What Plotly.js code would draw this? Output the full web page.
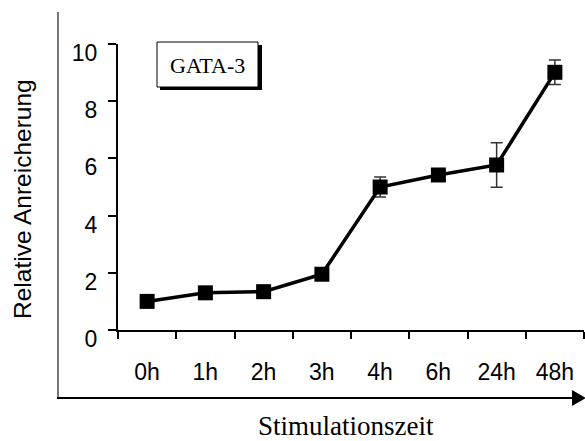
<!DOCTYPE html>
<html>
<head>
<meta charset="utf-8">
<script src="https://cdn.plot.ly/plotly-3.0.1.min.js"></script>
<style>
  html, body { margin: 0; padding: 0; background: #fff; }
  #chart { width: 585px; height: 441px; }
</style>
</head>
<body>
<div id="chart"></div>
<script>
// Stimulation time points
const timepoints = ["0h", "1h", "2h", "3h", "4h", "6h", "24h", "48h"];
// Relative enrichment of GATA-3
const enrichment = [1.0, 1.3, 1.34, 1.95, 5.0, 5.42, 5.77, 9.01];
// Standard deviation per time point
const errors = [0, 0, 0, 0, 0.35, 0, 0.78, 0.43];
const yTicks = [0, 2, 4, 6, 8, 10];

const W = 585, H = 441;
const M = { l: 118, r: 1, t: 44, b: 111 };
const plotW = W - M.l - M.r, plotH = H - M.t - M.b;
// pixel -> paper coordinates for the decorative frame and label box
const px = x => (x - M.l) / plotW;
const py = y => (H - M.b - y) / plotH;

const sans = "Liberation Sans, Arial, Helvetica, sans-serif";
const serif = "Liberation Serif, Times New Roman, serif";

const trace = {
  type: "scatter",
  mode: "lines+markers",
  x: timepoints,
  y: enrichment,
  line: { color: "#000", width: 3.5 },
  marker: { symbol: "square", size: 15, color: "#000" },
  error_y: { type: "data", array: errors, visible: true, color: "#333", thickness: 1.5, width: 6 },
  cliponaxis: false,
  showlegend: false
};

const layout = {
  width: W, height: H,
  margin: M,
  paper_bgcolor: "#fff",
  plot_bgcolor: "rgba(0,0,0,0)",
  font: { family: sans, size: 23, color: "#000" },
  xaxis: {
    type: "category",
    categoryorder: "array",
    categoryarray: timepoints,
    range: [-0.5, timepoints.length - 0.5],
    tickson: "boundaries",
    ticks: "outside", ticklen: 7, tickwidth: 2, tickcolor: "#000",
    showline: true, linewidth: 2, linecolor: "#000",
    showgrid: false, zeroline: false,
    ticklabelstandoff: 20,
    tickfont: { family: sans, size: 23, color: "#000" },
    fixedrange: true
  },
  yaxis: {
    range: [0, 10],
    tickvals: yTicks,
    ticks: "outside", ticklen: 8, tickwidth: 2, tickcolor: "#000",
    showline: true, linewidth: 2, linecolor: "#000",
    showgrid: false, zeroline: false,
    ticklabelstandoff: 6,
    ticklabelshift: 9,
    tickfont: { family: sans, size: 23, color: "#000" },
    fixedrange: true
  },
  shapes: [
    // outer frame: vertical rule
    { type: "line", xref: "paper", yref: "paper",
      x0: px(58), x1: px(58), y0: py(12), y1: py(398),
      line: { color: "#777", width: 2 } },
    // time arrow along the bottom
    { type: "line", xref: "paper", yref: "paper",
      x0: px(57), x1: px(574), y0: py(398), y1: py(398),
      line: { color: "#000", width: 2 } },
    { type: "path", xref: "paper", yref: "paper",
      path: `M ${px(572)} ${py(390)} L ${px(586)} ${py(398)} L ${px(572)} ${py(406)} Z`,
      fillcolor: "#000", line: { width: 0 } },
    // label box with drop shadow
    { type: "rect", xref: "paper", yref: "paper",
      x0: px(160), x1: px(262), y0: py(45), y1: py(90),
      fillcolor: "#000", line: { width: 0 } },
    { type: "rect", xref: "paper", yref: "paper",
      x0: px(157), x1: px(258), y0: py(42), y1: py(87),
      fillcolor: "#fff", line: { color: "#000", width: 1 } }
  ],
  annotations: [
    { text: "GATA-3", xref: "paper", yref: "paper",
      x: px(207), y: py(65), xanchor: "center", yanchor: "middle",
      showarrow: false, font: { family: serif, size: 22, color: "#000" } },
    { text: "Relative Anreicherung", xref: "paper", yref: "paper",
      x: px(22), y: py(199), xanchor: "center", yanchor: "middle", textangle: -90,
      showarrow: false, font: { family: sans, size: 24.5, color: "#000" } },
    { text: "Stimulationszeit", xref: "paper", yref: "paper",
      x: px(346), y: py(426), xanchor: "center", yanchor: "middle",
      showarrow: false, font: { family: serif, size: 27, color: "#000" } }
  ]
};

Plotly.newPlot("chart", [trace], layout, { staticPlot: true, displayModeBar: false });
</script>
</body>
</html>
